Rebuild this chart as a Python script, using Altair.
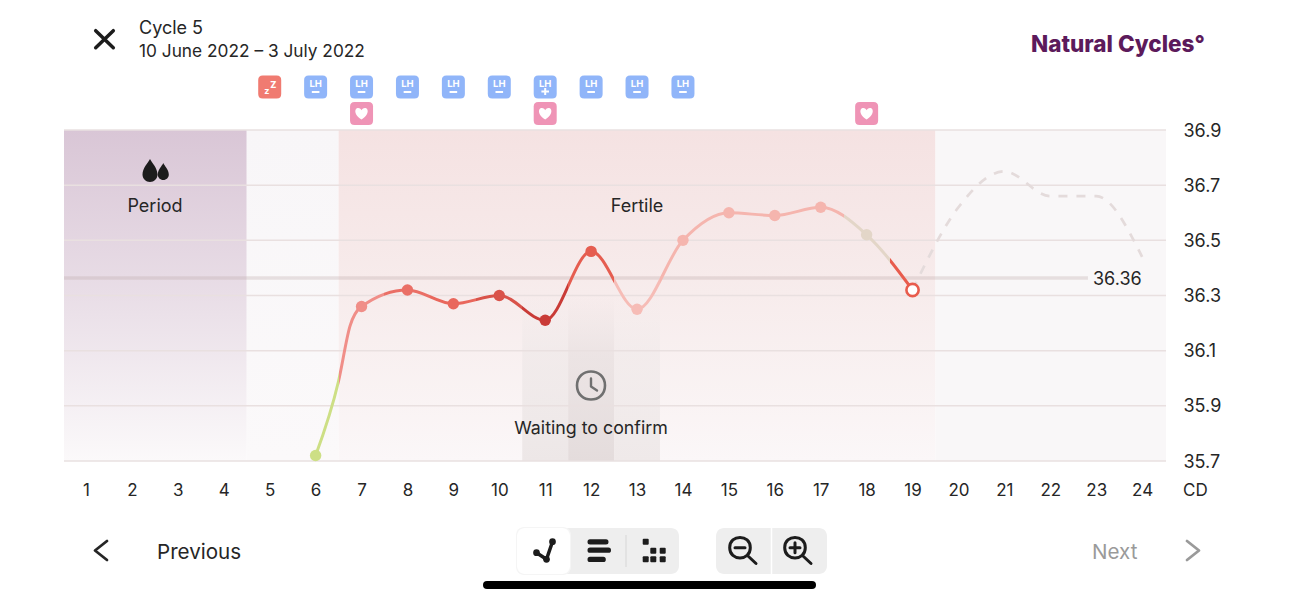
import pandas as pd
import altair as alt

FONT = "Inter"
INK = "#262626"

# chart data
days = [6, 7, 8, 9, 10, 11, 12, 13, 14, 15, 16, 17, 18, 19]
temps = [35.72, 36.26, 36.32, 36.27, 36.30, 36.21, 36.46, 36.25, 36.50, 36.60, 36.59, 36.62, 36.52, 36.32]
day_colors = ["#cddf85", "#f08e88", "#ea6f66", "#e9675c", "#d9534a", "#c93b37", "#e55d50",
              "#f6bcb6", "#f5b5ae", "#f5b5ae", "#f5b5ae", "#f5b5ae", "#e3d6c8", "#e85c4d"]
knot_day = [6.5, 6.75]
knot_temp = [35.99, 36.19]
pred_days = [19, 20, 21, 22, 23, 24]
pred_temps = [36.32, 36.62, 36.75, 36.66, 36.66, 36.44]
cover_line = 36.36
y_ticks = [36.9, 36.7, 36.5, 36.3, 36.1, 35.9, 35.7]
x_ticks = list(range(1, 25))
lh_days = [6, 7, 8, 9, 10, 11, 12, 13, 14]
lh_signs = ["-", "-", "-", "-", "-", "+", "-", "-", "-"]
heart_days = [7, 11, 18]
sleep_days = [5]
x_domain = [0.52, 24.52]
y_domain = [35.7, 36.9]

xs = alt.Scale(domain=x_domain, nice=False, zero=False)
ys = alt.Scale(domain=y_domain, nice=False, zero=False)


# helpers, pixel positions are page pixels for the app chrome around the chart
def px(v):
    return alt.value(v - 64)


def py(v):
    return alt.value(v - 130)


ONE = pd.DataFrame({"a": [0]})


def label(text, x, y, size=18, color=INK, align="left", weight=400):
    return alt.Chart(ONE).mark_text(text=text, font=FONT, fontSize=size, color=color, align=align,
                                    baseline="middle", fontWeight=weight).encode(x=px(x), y=py(y))


def box(x0, x1, y0, y1, color, radius=8):
    return alt.Chart(ONE).mark_rect(color=color, cornerRadius=radius).encode(x=px(x0), x2=px(x1), y=py(y0), y2=py(y1))


def solid(path, x, y, color):
    return alt.Chart(ONE).mark_point(shape=path, size=4, filled=True, opacity=1, color=color, strokeWidth=0).encode(x=px(x), y=py(y))


def outline(path, x, y, color, width):
    return alt.Chart(ONE).mark_point(shape=path, size=4, filled=False, opacity=1, color=color, strokeWidth=width,
                                     strokeCap="round", strokeJoin="round").encode(x=px(x), y=py(y))


def dot_at(x, y, size):
    return alt.Chart(ONE).mark_circle(size=size, opacity=1, color="#1c1c1c").encode(x=px(x), y=py(y))


def sq_dot_at(x, y):
    return alt.Chart(ONE).mark_point(shape="M-2,-3 H2 Q3,-3 3,-2 V2 Q3,3 2,3 H-2 Q-3,3 -3,2 V-2 Q-3,-3 -2,-3 Z",
                                     size=4, filled=True, opacity=1, color="#1c1c1c", strokeWidth=0).encode(x=px(x), y=py(y))


def grad(stops, x2=0, y2=1):
    return alt.Gradient(gradient="linear", x1=0, y1=0, x2=x2, y2=y2,
                        stops=[alt.GradientStop(color=c, offset=o) for o, c in stops])


def band(d0, d1, t0, t1, stops):
    df = pd.DataFrame({"d0": [d0], "d1": [d1], "t0": [t0], "t1": [t1]})
    return alt.Chart(df).mark_rect(color=grad(stops)).encode(
        x=alt.X("d0:Q", scale=xs), x2="d1:Q", y=alt.Y("t1:Q", scale=ys), y2="t0:Q")


# background bands
bands = [
    band(x_domain[0], 4.5, 35.7, 36.9, [(0, "#d9c6d6"), (0.5, "#e9dee7"), (1, "#fbf9fa")]),
    band(4.5, 6.5, 35.7, 36.9, [(0, "#f8f6f8"), (1, "#fbf9fa")]),
    band(6.5, 19.5, 35.7, 36.9, [(0, "#f5e2e2"), (0.5, "#f7ecec"), (1, "#fbf7f8")]),
    band(19.5, x_domain[1], 35.7, 36.9, [(0, "#f9f7f8"), (1, "#f9f7f8")]),
    band(10.5, 11.5, 35.7, 36.3, [(0, "#ede7e700"), (0.35, "#ede7e799"), (1, "#ede7e7")]),
    band(11.5, 12.5, 35.7, 36.3, [(0, "#e4dcdc00"), (0.35, "#e4dcdc99"), (1, "#e4dcdc")]),
    band(12.5, 13.5, 35.7, 36.3, [(0, "#efe9e900"), (0.35, "#efe9e999"), (1, "#efe9e9")]),
]

# gridlines with the axes
grid = alt.Chart(pd.DataFrame({"t": y_ticks})).mark_rule(color="#e9e0e0", strokeWidth=1.5).encode(
    x=alt.value(0), x2=alt.value(1102),
    y=alt.Y("t:Q", scale=ys, axis=alt.Axis(values=y_ticks, orient="right", format=".1f", domain=False, ticks=False,
                                            grid=False, title=None, labelFont=FONT, labelFontSize=18, labelColor=INK,
                                            labelPadding=17, labelOffset=1, labelOverlap=False, labelFlush=False)))

x_axis = alt.Chart(pd.DataFrame({"d": x_ticks})).mark_point(opacity=0).encode(
    x=alt.X("d:Q", scale=xs, axis=alt.Axis(values=x_ticks, format="d", domain=False, ticks=False, grid=False, title=None,
                                            labelFont=FONT, labelFontSize=17, labelColor=INK, labelPadding=29,
                                            labelBaseline="middle", labelOverlap=False, labelFlush=False)))

# coverline
cover = alt.Chart(pd.DataFrame({"d0": [x_domain[0]], "d1": [22.82], "t": [cover_line]})).mark_rule(
    color="#b8a4a4", opacity=0.3, strokeWidth=3.5, yOffset=-1).encode(x=alt.X("d0:Q", scale=xs), x2="d1:Q", y=alt.Y("t:Q", scale=ys))
cover_text = alt.Chart(pd.DataFrame({"d": [23.46], "t": [cover_line], "s": [f"{cover_line:.2f}"]})).mark_text(
    font=FONT, fontSize=18, color=INK, baseline="middle", dy=1).encode(
    x=alt.X("d:Q", scale=xs), y=alt.Y("t:Q", scale=ys), text="s:N")

# predicted curve
pred = alt.Chart(pd.DataFrame({"d": pred_days, "t": pred_temps})).mark_line(
    interpolate="monotone", color="#e4dbdb", strokeWidth=2.7, strokeDash=[9, 9]).encode(
    x=alt.X("d:Q", scale=xs), y=alt.Y("t:Q", scale=ys))

# measured curve, one smooth line whose colour switches half way between days
span = days[-1] - days[0]
line_stops = []
for i, d in enumerate(days):
    start = 0 if i == 0 else (d - 0.5 - days[0]) / span
    end = 1 if i == len(days) - 1 else (d + 0.5 - days[0]) / span
    line_stops += [(start, day_colors[i]), (end, day_colors[i])]
curve_df = pd.DataFrame({"d": days + knot_day, "t": temps + knot_temp}).sort_values("d")
curve = alt.Chart(curve_df).mark_line(
    interpolate="monotone", strokeWidth=3, stroke=grad(line_stops, x2=1, y2=0)).encode(
    x=alt.X("d:Q", scale=xs), y=alt.Y("t:Q", scale=ys))
dots = alt.Chart(pd.DataFrame({"d": days[:-1], "t": temps[:-1], "c": day_colors[:-1]})).mark_circle(size=130, opacity=1).encode(
    x=alt.X("d:Q", scale=xs), y=alt.Y("t:Q", scale=ys), color=alt.Color("c:N", scale=None))
today = alt.Chart(pd.DataFrame({"d": days[-1:], "t": temps[-1:]})).mark_point(
    size=150, filled=True, fill="white", stroke=day_colors[-1], strokeWidth=2.6, opacity=1).encode(
    x=alt.X("d:Q", scale=xs), y=alt.Y("t:Q", scale=ys))

# badges above the chart
SQUARE = ("M-7,-11.5 H7 Q11.5,-11.5 11.5,-7 V7 Q11.5,11.5 7,11.5 H-7 Q-11.5,11.5 -11.5,7 V-7 "
          "Q-11.5,-11.5 -7,-11.5 Z")
HEART = "M0,6 C-8.5,0.5 -6.8,-5.5 -3.4,-5.5 C-1.6,-5.5 -0.4,-4.4 0,-3.2 C0.4,-4.4 1.6,-5.5 3.4,-5.5 C6.8,-5.5 8.5,0.5 0,6 Z"
MINUS = "M-3.8,0 H3.8"
PLUS = "M-3.8,0 H3.8 M0,-3.4 V3.4"


def badges(day_list, y, color):
    df = pd.DataFrame({"d": day_list})
    return alt.Chart(df).mark_point(shape=SQUARE, size=4, filled=True, opacity=1, color=color, strokeWidth=0).encode(
        x=alt.X("d:Q", scale=xs), y=py(y))


def signs(sign, path, y):
    df = pd.DataFrame({"d": [d for d, s in zip(lh_days, lh_signs) if s == sign]})
    return alt.Chart(df).mark_point(shape=path, size=4, filled=False, opacity=1, color="white", strokeWidth=2).encode(
        x=alt.X("d:Q", scale=xs), y=py(y))


lh_df = pd.DataFrame({"d": lh_days, "s": lh_signs, "t": ["LH"] * len(lh_days)})
badge_layers = [
    badges(sleep_days, 87, "#f07b71"),
    badges(lh_days, 87, "#90b5f9"),
    badges(heart_days, 113.5, "#ef94b6"),
    alt.Chart(pd.DataFrame({"d": heart_days})).mark_point(shape=HEART, size=4, filled=True, opacity=1, color="white", strokeWidth=0).encode(
        x=alt.X("d:Q", scale=xs), y=py(113.5)),
    alt.Chart(lh_df).mark_text(font=FONT, fontSize=9.5, fontWeight=700, color="white", baseline="middle").encode(
        x=alt.X("d:Q", scale=xs), y=py(84), text="t:N"),
    signs("-", MINUS, 92),
    signs("+", PLUS, 91.5),
    alt.Chart(pd.DataFrame({"d": sleep_days, "z": ["z"]})).mark_text(font=FONT, fontSize=9, fontWeight=700, color="white", baseline="middle", dx=-3).encode(
        x=alt.X("d:Q", scale=xs), y=py(91), text="z:N"),
    alt.Chart(pd.DataFrame({"d": sleep_days, "z": ["Z"]})).mark_text(font=FONT, fontSize=9, fontWeight=800, color="white", baseline="middle", dx=3.5).encode(
        x=alt.X("d:Q", scale=xs), y=py(84.5), text="z:N"),
]

# icons drawn in pixels around their own centre
DROPS = ("M-5,-12 C-3,-8 2.5,-3 2.5,3.5 C2.5,7.7 -0.9,11 -5,11 C-9.1,11 -12.5,7.7 -12.5,3.5 C-12.5,-3 -7,-8 -5,-12 Z "
         "M8.3,-8 C9.5,-5 13.8,-1.5 13.8,3.5 C13.8,6.6 11.4,9 8.3,9 C5.2,9 2.8,6.6 2.8,3.5 C2.8,-1.5 7,-5 8.3,-8 Z")
CROSS = "M-8.8,-8.5 L8.8,8.5 M8.8,-8.5 L-8.8,8.5"
CHEV_L = "M6,-9.5 L-6,0 L6,9.5"
CHEV_R = "M-6,-9.5 L6,0 L-6,9.5"
CLOCK_HANDS = "M0,-7 L0,1 L6,5"
LENS_MINUS = "M-10.3,0 C-10.3,-13.7 10.3,-13.7 10.3,0 C10.3,13.7 -10.3,13.7 -10.3,0 Z M8,8.3 L16,15.8 M-5,0 L5,0"
LENS_PLUS = LENS_MINUS + " M0,-5 L0,5"
TREND = "M-8,2.7 L2,9.3 L8,-8.3"
BARS = ("M-8,-10.7 H8 Q10.5,-10.7 10.5,-8 Q10.5,-5.5 8,-5.5 H-8 Q-10.5,-5.5 -10.5,-8 Q-10.5,-10.7 -8,-10.7 Z "
        "M-8,-2.4 H10.5 Q13,-2.4 13,0.2 Q13,2.8 10.5,2.8 H-8 Q-10.5,2.8 -10.5,0.2 Q-10.5,-2.4 -8,-2.4 Z "
        "M-8,6.8 H5.3 Q7.8,6.8 7.8,9.4 Q7.8,12 5.3,12 H-8 Q-10.5,12 -10.5,9.4 Q-10.5,6.8 -8,6.8 Z")

chrome = [
    label("Cycle 5", 139, 28.5),
    label("10 June 2022 – 3 July 2022", 139, 52, size=17.3),
    label("Natural Cycles°", 1031, 45, size=22.5, color="#5c1a5b", weight=800),
    outline(CROSS, 104.5, 39.2, "#1c1c1c", 3.5),
    solid(DROPS, 155, 171, "#1c1c1c"),
    label("Period", 155, 207, align="center"),
    label("Fertile", 637, 207, align="center"),
    outline("M-14,0 C-14,-18.7 14,-18.7 14,0 C14,18.7 -14,18.7 -14,0 Z", 591, 385.5, "#707070", 2.6),
    outline(CLOCK_HANDS, 591, 385.5, "#707070", 2.4),
    label("Waiting to confirm", 591, 429, size=17.8, align="center"),
    label("CD", 1183, 491, size=17),
    outline(CHEV_L, 101, 550.5, "#262626", 2.8),
    label("Previous", 157, 552.5, size=20.6),
    label("Next", 1092, 552.5, size=20.6, color="#9a9a9a"),
    outline(CHEV_R, 1193, 550.5, "#9a9a9a", 2.8),
    box(517, 679, 528, 574, "#eeeeee"),
    box(516, 571, 527, 575, "#f5f5f5"),
    box(517, 570, 528, 574, "#ffffff"),
    alt.Chart(ONE).mark_rule(color="#d6d6d6", strokeWidth=1).encode(x=px(626), y=py(535), y2=py(567)),
    outline(TREND, 544.5, 550, "#1c1c1c", 3.5),
    dot_at(536.5, 552.7, 45),
    dot_at(546.5, 559.3, 45),
    dot_at(552.5, 541.7, 45),
    solid(BARS, 598, 550, "#1c1c1c"),
    sq_dot_at(645.7, 541.7),
    sq_dot_at(653.3, 550.7),
    sq_dot_at(662.7, 550.7),
    sq_dot_at(645.7, 559.3),
    sq_dot_at(653.3, 559.3),
    sq_dot_at(662.7, 559.3),
    box(716, 827, 528, 574, "#eeeeee"),
    alt.Chart(ONE).mark_rule(color="#ffffff", strokeWidth=1.5).encode(x=px(771.5), y=py(528), y2=py(574)),
    outline(LENS_MINUS, 740, 547.7, "#1c1c1c", 3),
    outline(LENS_PLUS, 795, 547.7, "#1c1c1c", 3),
    alt.Chart(ONE).mark_rule(color="#000000", strokeWidth=8, strokeCap="round").encode(x=px(487), x2=px(812), y=py(585)),
]

chart = alt.layer(*bands, grid, x_axis, cover, cover_text, pred, curve, dots, today, *badge_layers, *chrome).properties(
    width=1102, height=331,
    autosize=alt.AutoSizeParams(type="none"),
    padding={"left": 56, "top": 122, "right": 125, "bottom": 130},
    background="white",
).configure_view(strokeWidth=0)

chart.save("out.html", embed_options={"renderer": "svg", "actions": False})
